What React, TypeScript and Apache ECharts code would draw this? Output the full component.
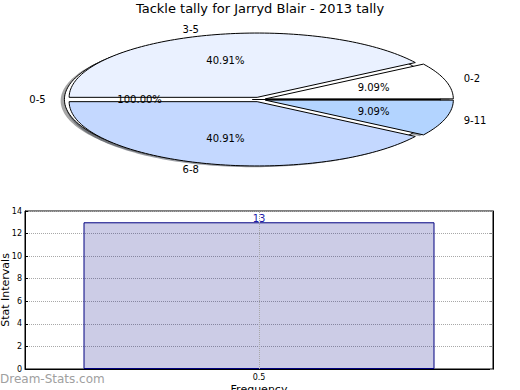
import React, { useEffect, useRef } from 'react';
import * as echarts from 'echarts';

// ---- data ----
const chartTitle = 'Tackle tally for Jarryd Blair - 2013 tally';
const pieLabels = ['0-2', '3-5', '6-8', '9-11'];
const pieCounts = [2, 9, 9, 2];
const outerLabels = ['0-5'];
const outerCounts = [1];
const barCategories = ['0.5'];
const barValues = [13];
const yMin = 0;
const yMax = 14;
const yStep = 2;

// ---- styles / layout ----
const pieColors = ['#ffffff', '#eaf1ff', '#c4d8ff', '#b3d4ff'];
const outerColors = ['#ffffff'];
const FONT = 'DejaVu Sans';
const CX = 259;
const CY = 99.5;
const RX = 188;
const RY = 64.3;
const EXPLODE = 0.035;
const LABEL_D = 1.1;
const PCT_D = 0.6;
const SHX = -0.02 * RX;
const SHY = 0.02 * RY;

function shadowColor(hex: string) {
  const h = hex.replace('#', '');
  const r = Math.round(parseInt(h.slice(0, 2), 16) * 0.3);
  const g = Math.round(parseInt(h.slice(2, 4), 16) * 0.3);
  const b = Math.round(parseInt(h.slice(4, 6), 16) * 0.3);
  return `rgba(${r},${g},${b},0.5)`;
}

function makePieRender(values: number[], labels: string[], colors: string[], wedgeZ: number) {
  const total = values.reduce((a, b) => a + b, 0);
  return (params: any, api: any) => {
    const i = params.dataIndex;
    let start = 0;
    for (let k = 0; k < i; k++) start += values[k];
    const a0 = (start / total) * 2 * Math.PI;
    const a1 = ((start + values[i]) / total) * 2 * Math.PI;
    const am = (a0 + a1) / 2;
    const ox = CX + EXPLODE * RX * Math.cos(am);
    const oy = CY - EXPLODE * RY * Math.sin(am);
    const pts: number[][] = [[ox, oy]];
    const N = Math.max(10, Math.ceil(((a1 - a0) / (2 * Math.PI)) * 240));
    for (let k = 0; k <= N; k++) {
      const a = a0 + ((a1 - a0) * k) / N;
      pts.push([ox + RX * Math.cos(a), oy - RY * Math.sin(a)]);
    }
    const shadowPts = pts.map(([x, y]) => [x + SHX, y + SHY]);
    const lx = ox + LABEL_D * RX * Math.cos(am);
    const ly = oy - LABEL_D * RY * Math.sin(am);
    const px = ox + PCT_D * RX * Math.cos(am);
    const py = oy - PCT_D * RY * Math.sin(am);
    const pct = ((values[i] / total) * 100).toFixed(2) + '%';
    return {
      type: 'group',
      children: [
        {
          type: 'polygon',
          z2: 0,
          shape: { points: shadowPts },
          style: { fill: shadowColor(colors[i]), stroke: null },
        },
        {
          type: 'polygon',
          z2: wedgeZ,
          shape: { points: pts },
          style: { fill: colors[i], stroke: '#000', lineWidth: 1 },
        },
        {
          type: 'text',
          z2: 30,
          x: lx,
          y: ly,
          style: {
            text: labels[i],
            fill: '#000',
            font: `10px "${FONT}"`,
            align: Math.cos(am) > 0.0001 ? 'left' : 'right',
            verticalAlign: 'middle',
          },
        },
        {
          type: 'text',
          z2: 30,
          x: px,
          y: py,
          style: {
            text: pct,
            fill: '#000',
            font: `10px "${FONT}"`,
            align: 'center',
            verticalAlign: 'middle',
          },
        },
      ],
    };
  };
}

export default function App() {
  const ref = useRef<HTMLDivElement>(null);
  useEffect(() => {
    if (!ref.current) return;
    const chart = echarts.init(ref.current, undefined, { renderer: 'svg' });
    const option: any = {
      animation: false,
      backgroundColor: '#fff',
      title: {
        text: chartTitle,
        left: 'center',
        top: 2,
        padding: 0,
        textStyle: { fontFamily: FONT, fontSize: 13, fontWeight: 'normal', color: '#000' },
      },
      graphic: [
        {
          type: 'text',
          left: 0,
          top: 373,
          style: {
            text: 'Dream-Stats.com',
            fill: '#a0a0a0',
            font: `12px "${FONT}"`,
          },
        },
      ],
      grid: {
        left: 25,
        right: 27,
        top: 211,
        bottom: 21,
        containLabel: false,
        outerBoundsMode: 'none',
        show: true,
        borderColor: '#000',
        borderWidth: 1,
        backgroundColor: 'transparent',
      },
      xAxis: {
        type: 'category',
        data: barCategories,
        name: 'Frequency',
        nameLocation: 'middle',
        nameGap: 15,
        nameMoveOverlap: false,
        nameTextStyle: { fontFamily: FONT, fontSize: 11, color: '#000' },
        axisLine: { show: true, lineStyle: { color: '#000' } },
        axisTick: { show: false },
        axisLabel: { fontFamily: FONT, fontSize: 8, color: '#000', margin: 4 },
        splitLine: { show: false },
      },
      yAxis: [
        {
          type: 'value',
          min: yMin,
          max: yMax,
          interval: yStep,
          name: 'Stat Intervals',
          nameLocation: 'middle',
          nameGap: 14,
          nameMoveOverlap: false,
          nameTextStyle: { fontFamily: FONT, fontSize: 11, color: '#000' },
          axisLine: { show: true, lineStyle: { color: '#000' } },
          axisTick: { show: true, inside: true, length: 3, lineStyle: { color: '#000' } },
          axisLabel: { fontFamily: FONT, fontSize: 8, color: '#000', margin: 3 },
          splitLine: { show: true, lineStyle: { type: 'dotted', color: '#a8a8a8', width: 1 } },
        },
        {
          type: 'value',
          position: 'right',
          min: yMin,
          max: yMax,
          interval: yStep,
          axisLine: { show: true, lineStyle: { color: '#000' } },
          axisTick: { show: true, inside: true, length: 3, lineStyle: { color: '#888' } },
          axisLabel: { show: false },
          splitLine: { show: false },
        },
      ],
      series: [
        {
          type: 'bar',
          data: barValues,
          barWidth: '75%',
          itemStyle: { color: 'rgba(0,0,128,0.2)', borderColor: '#000080', borderWidth: 1 },
          label: {
            show: true,
            position: 'top',
            distance: -1,
            color: '#1a1aa8',
            fontFamily: FONT,
            fontSize: 10,
          },
          markLine: {
            silent: true,
            symbol: 'none',
            label: { show: false },
            lineStyle: { type: 'dotted', color: '#a8a8a8', width: 1 },
            data: [{ xAxis: barCategories[0] }],
          },
        },
        {
          type: 'custom',
          coordinateSystem: 'none',
          data: outerCounts,
          renderItem: makePieRender(outerCounts, outerLabels, outerColors, 5),
        },
        {
          type: 'custom',
          coordinateSystem: 'none',
          data: pieCounts,
          renderItem: makePieRender(pieCounts, pieLabels, pieColors, 10),
        },
      ],
    };
    chart.setOption(option);
    return () => chart.dispose();
  }, []);
  return <div ref={ref} style={{ position: 'fixed', left: 0, top: 0, width: 520, height: 390 }} />;
}
